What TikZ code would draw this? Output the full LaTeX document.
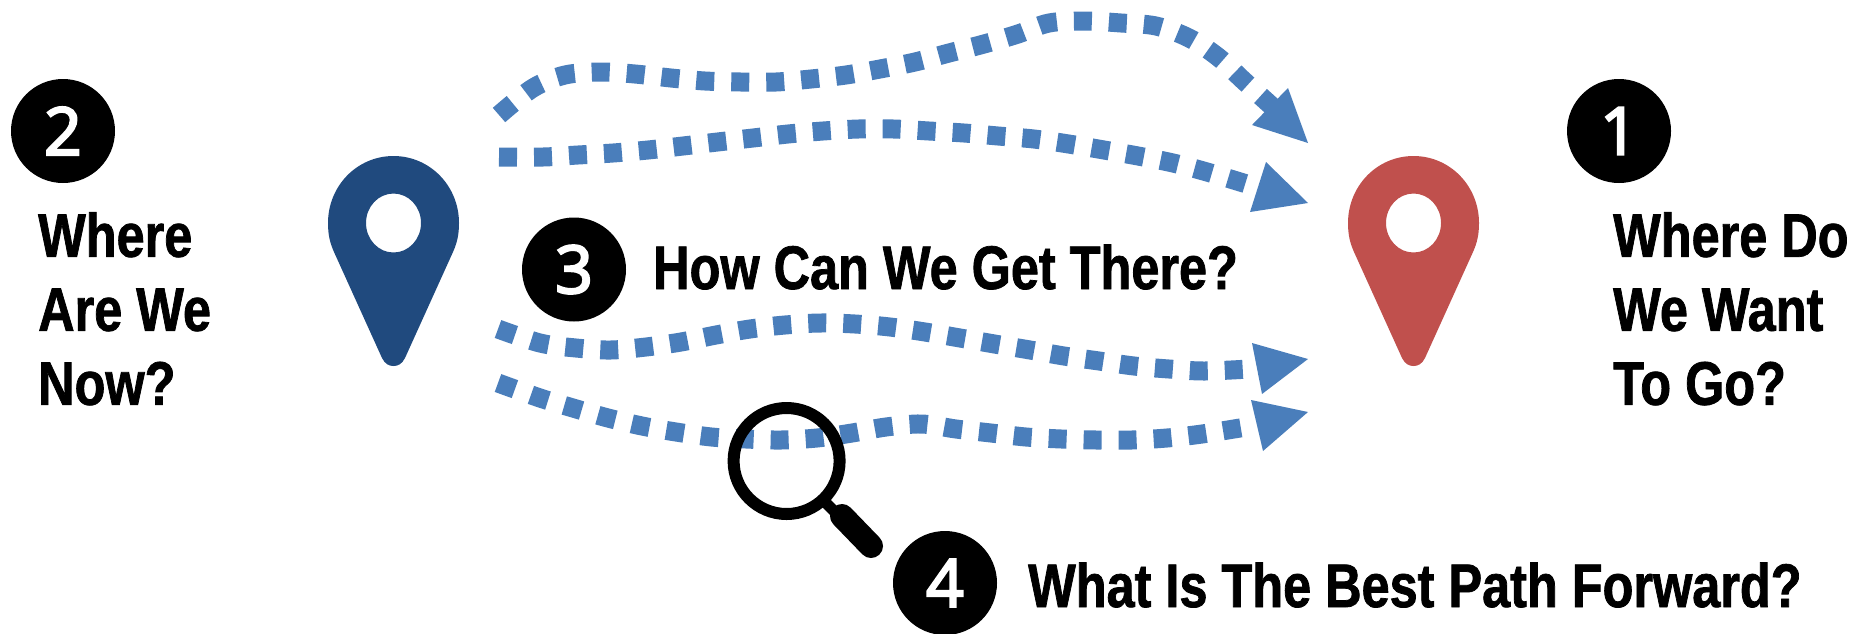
\documentclass[tikz,border=0pt]{standalone}
\usepackage{fontspec}
\setmainfont{Liberation Sans}
\newfontfamily\headfont[FakeStretch=0.82,FakeBold=1.2]{Liberation Sans Bold}
\newfontfamily\numfont[FakeBold=3.5]{Open Sans}
\definecolor{routeblue}{HTML}{4A7EBB}
\definecolor{pinblue}{HTML}{204A7E}
\definecolor{pinred}{HTML}{C0504D}
\tikzset{
  badge/.style={circle,fill=black,text=white,minimum size=104pt,inner sep=0pt,font=\numfont\fontsize{66}{70}\selectfont},
  headline/.style={inner sep=0pt,align=left,anchor=north west,font=\headfont\fontsize{61.5}{74}\selectfont},
  route/.style={draw=routeblue,line width=19pt,dash pattern=on 18pt off 17pt},
  routehead/.style={fill=routeblue},
  locpin/.pic={
    \fill[pic actions,even odd rule]
      (0,-67) .. controls (36.5,-67) and (65.5,-37) .. (65.5,0)
      .. controls (65.5,12) and (63.5,20) .. (59.5,29)
      -- (11.5,135) .. controls (8.5,141) and (4.5,143) .. (0,143)
      .. controls (-4.5,143) and (-8.5,141) .. (-11.5,135)
      -- (-59.5,29) .. controls (-63.5,20) and (-65.5,12) .. (-65.5,0)
      .. controls (-65.5,-37) and (-36.5,-67) .. (0,-67) -- cycle
      (0,0) ellipse [x radius=27.5,y radius=29.5];
  }
}
\begin{document}
\begin{tikzpicture}[x=1pt,y=-1pt]
\useasboundingbox (0,0) rectangle (1867,633);
% pins
\pic[fill=pinblue] at (393.5,223) {locpin};
\pic[fill=pinred] at (1413.5,223) {locpin};
% route ends
\coordinate (a1) at (499,115); \coordinate (c1) at (1276,110);
\coordinate (a2) at (499,157); \coordinate (c2) at (1250,185);
\coordinate (a3) at (498,329); \coordinate (c3) at (1249,369);
\coordinate (a4) at (498,383); \coordinate (c4) at (1246,427);
\coordinate (b1) at (1308,143); \coordinate (h1a) at (1288,88);  \coordinate (h1b) at (1252,125);
\coordinate (b2) at (1308,203); \coordinate (h2a) at (1266,162); \coordinate (h2b) at (1250,212);
\coordinate (b3) at (1308,359); \coordinate (h3a) at (1252,343); \coordinate (h3b) at (1262,394);
\coordinate (b4) at (1308,412); \coordinate (h4a) at (1251,400); \coordinate (h4b) at (1263,451);
% routes
\draw[route] plot[smooth,tension=0.55] coordinates {(a1) (533,88) (565,75) (601,72) (635,74) (671,78) (705,81) (741,82) (776,82) (811,79) (846,75) (880,69) (915,62) (949,53) (984,44) (1018,34) (1049,23) (1085,21) (1121,23) (1156,26) (1189,38) (1218,57) (1244,81) (c1)};
\draw[route] plot[smooth,tension=0.55] coordinates {(a2) (543,157) (578,155) (613,153) (648,150) (683,146) (717.5,142) (753,138) (788,134) (823,131) (858.5,129) (893.6,129) (929,131) (964,133) (998,136) (1034,139) (1068.6,144) (1104,150) (1138,156) (1173,163) (1207,172) (c2)};
\draw[route] plot[smooth,tension=0.55] coordinates {(a3) (540,343) (576,348) (610.5,350) (646,347) (681,342) (716,335) (750,329) (785,325) (820,323) (855,324) (890,327) (925,332) (960,338) (994.5,344) (1030,350) (1064,356) (1099,361) (1134,366) (1169,369) (1204,371) (c3)};
\draw[route] plot[smooth,tension=0.55] coordinates {(a4) (540,398) (573,408) (608,418) (642,426) (676,432) (711.5,437) (746,439) (781,440) (817,438) (852,433) (886,427) (921.6,424) (956,429) (991,433) (1026,437) (1061.5,439) (1096.6,440) (1131.6,440) (1167,438) (1202,434) (c4)};
\fill[routehead] (h1a) -- (b1) -- (h1b) -- cycle;
\fill[routehead] (h2a) -- (b2) -- (h2b) -- cycle;
\fill[routehead] (h3a) -- (b3) -- (h3b) -- cycle;
\fill[routehead] (h4a) -- (b4) -- (h4b) -- cycle;
% magnifier
\draw[line width=12pt] (786.6,461) ellipse [x radius=53,y radius=53];
\draw[line width=11pt] (826,503) -- (842,519);
\draw[line width=24pt,line cap=round] (842,516) -- (871,546);
% badges
\node[badge] (n2) at (63,131) {2};
\node[badge] (n1) at (1619,131) {1};
\node[badge] (n3) at (574,269.5) {3};
\node[badge] (n4) at (945,583) {4};
% texts
\node[headline] (t2) at (38,212) {Where\\Are We\\Now?};
\node[headline] (t1) at (1613,212) {Where Do\\We Want\\To Go?};
\node[headline,anchor=base west] (t3) at (653,289) {How Can We Get There?};
\node[headline,anchor=base west] (t4) at (1028,607) {What Is The Best Path Forward?};
\end{tikzpicture}
\end{document}
